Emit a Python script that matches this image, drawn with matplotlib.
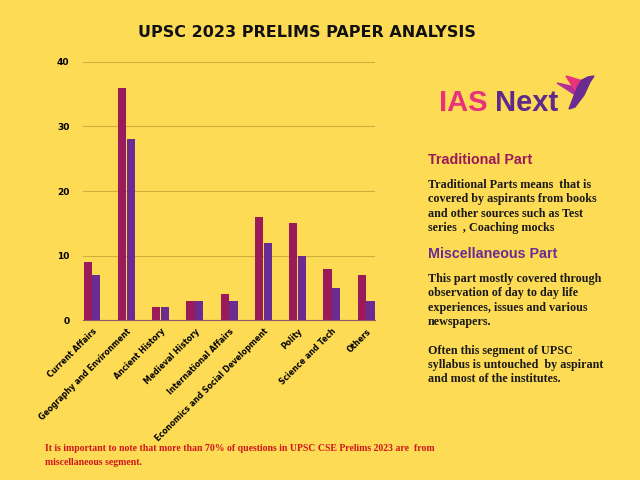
import numpy as np
import matplotlib.pyplot as plt
from matplotlib.patches import Polygon

subjects = ['Current Affairs', 'Geography and Environment', 'Ancient History',
            'Medieval History', 'International Affairs',
            'Economics and Social Development', 'Polity', 'Science and Tech', 'Others']
traditional = [9, 36, 2, 3, 4, 16, 15, 8, 7]
miscellaneous = [7, 28, 2, 3, 3, 12, 10, 5, 3]

bg = '#FEDB55'
crimson = '#9B1B5A'
purple = '#6A2C91'

fig = plt.figure(figsize=(6.4, 4.8), dpi=100, facecolor=bg)
ax = fig.add_axes([0.13, 0.333, 0.456, 0.538], facecolor=bg)

x = np.arange(len(subjects))
w = 0.235
ax.bar(x - w / 2 - 0.01, traditional, w, color=crimson, zorder=3)
ax.bar(x + w / 2 + 0.01, miscellaneous, w, color=purple, zorder=3)

ax.set_ylim(0, 40)
ax.set_xlim(-0.26, 8.26)
ax.set_yticks([0, 10, 20, 30, 40])
ax.yaxis.grid(True, color='#CDAE3F', linewidth=0.8, zorder=0)
ax.tick_params(axis='y', length=0, labelsize=6.5, pad=10)
for lab in ax.get_yticklabels():
    lab.set_fontweight('bold')
ax.set_xticks(x)
ax.set_xticklabels(subjects, rotation=45, ha='right', rotation_mode='anchor',
                   fontsize=5.6, fontweight='bold')
ax.tick_params(axis='x', length=0, pad=5)
for s in ['top', 'right', 'left']:
    ax.spines[s].set_visible(False)
ax.spines['bottom'].set_color('#8A5A6A')
ax.spines['bottom'].set_linewidth(0.8)

fig.text(0.48, 0.933, 'UPSC 2023 PRELIMS PAPER ANALYSIS', ha='center', va='center',
         fontsize=11.5, fontweight='bold', color='#111111')

# logo
fig.text(0.686, 0.785, 'IAS', ha='left', va='center', fontsize=21, fontweight='bold',
         family='Liberation Sans', color='#E8337B')
fig.text(0.774, 0.785, 'Next', ha='left', va='center', fontsize=21, fontweight='bold',
         family='Liberation Sans', color='#5E2A8C')
W, H = 640, 480
def px(pts):
    return [(a / W, 1 - b / H) for a, b in pts]
fig.patches.append(Polygon(px([(557, 83), (575, 87), (577, 96)]), closed=True,
                           transform=fig.transFigure, color='#B0309A'))
fig.patches.append(Polygon(px([(566, 76), (583, 81), (578, 95)]), closed=True,
                           transform=fig.transFigure, color='#E8337B'))
fig.patches.append(Polygon(px([(582, 80), (588, 77), (594, 76), (590, 82), (584, 95),
                               (575, 107), (569, 109), (574, 96), (578, 86)]),
                           closed=True, transform=fig.transFigure, color='#6A2C91'))

fig.text(0.668, 0.667, 'Traditional Part', ha='left', va='center', fontsize=10.3,
         fontweight='bold', family='Liberation Sans', color=crimson)
fig.text(0.668, 0.627, 'Traditional Parts means  that is\ncovered by aspirants from books\n'
         'and other sources such as Test\nseries  , Coaching mocks',
         ha='left', va='top', fontsize=8.7, fontweight='bold', family='Liberation Serif',
         color='#1a1a1a', linespacing=1.26)
fig.text(0.668, 0.471, 'Miscellaneous Part', ha='left', va='center', fontsize=10.3,
         fontweight='bold', family='Liberation Sans', color=purple)
fig.text(0.668, 0.431, 'This part mostly covered through\nobservation of day to day life\n'
         'experiences, issues and various\nnewspapers.\n\nOften this segment of UPSC\n'
         'syllabus is untouched  by aspirant\nand most of the institutes.',
         ha='left', va='top', fontsize=8.7, fontweight='bold', family='Liberation Serif',
         color='#1a1a1a', linespacing=1.26)

fig.text(0.07, 0.051, 'It is important to note that more than 70% of questions in UPSC CSE '
         'Prelims 2023 are  from\nmiscellaneous segment.', ha='left', va='center',
         fontsize=7.0, fontweight='bold', family='Liberation Serif', color='#D0141E',
         linespacing=1.7)

fig.savefig('out.png', dpi=100, facecolor=bg)
